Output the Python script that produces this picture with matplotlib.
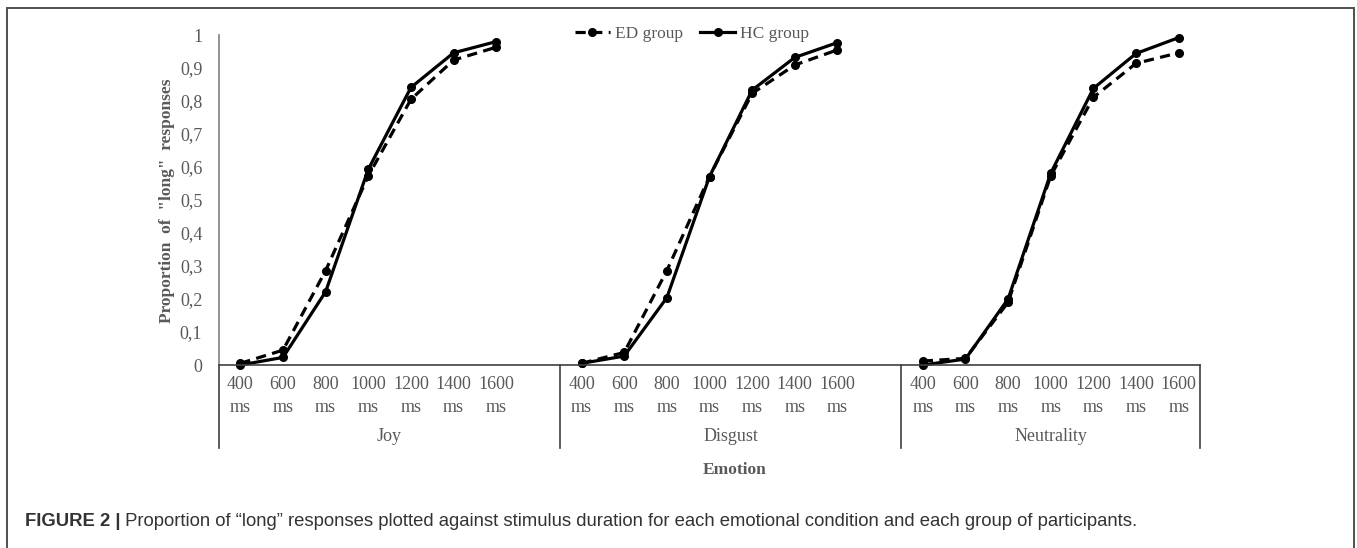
import numpy as np
import matplotlib
matplotlib.use('Agg')
import matplotlib.pyplot as plt
import matplotlib.transforms as mtransforms
from matplotlib.patches import Rectangle

# Data
durations = ['400', '600', '800', '1000', '1200', '1400', '1600']
emotions = ['Joy', 'Disgust', 'Neutrality']

ed_joy = [0.005, 0.045, 0.286, 0.573, 0.805, 0.924, 0.963]
hc_joy = [0.0, 0.023, 0.222, 0.593, 0.841, 0.946, 0.980]
ed_disgust = [0.005, 0.038, 0.286, 0.571, 0.823, 0.909, 0.955]
hc_disgust = [0.005, 0.027, 0.204, 0.571, 0.833, 0.932, 0.977]
ed_neutral = [0.012, 0.020, 0.190, 0.573, 0.811, 0.914, 0.946]
hc_neutral = [0.0, 0.018, 0.200, 0.581, 0.838, 0.944, 0.992]

ed_all = [ed_joy, ed_disgust, ed_neutral]
hc_all = [hc_joy, hc_disgust, hc_neutral]

W, H = 1357, 548
GRAY = '#595959'
SERIF = ['Liberation Serif', 'DejaVu Serif']

fig = plt.figure(figsize=(W / 100, H / 100), dpi=100)

# outer frame of the figure panel
fig.patches.append(Rectangle((7 / W, -0.1), 1347 / W, 1 - 8 / H + 0.1,
                             transform=fig.transFigure, fill=False,
                             edgecolor='#505050', linewidth=1.4))

ax = fig.add_axes([219 / W, 1 - 365 / H, (1200 - 219) / W, 330 / H])

# each emotion uses 7 slots plus one empty slot between groups
slot = 8
for g in range(len(emotions)):
    xs = g * slot + np.arange(len(durations))
    l_ed, = ax.plot(xs, ed_all[g], color='black', lw=2.3, dashes=(3.2, 2.0),
                    marker='o', ms=5.5, clip_on=False)
    l_hc, = ax.plot(xs, hc_all[g], color='black', lw=2.3,
                    marker='o', ms=5.5, clip_on=False)

ax.set_xlim(-0.5, 2 * slot + len(durations) - 0.5)
ax.set_ylim(0, 1)

yt = np.round(np.arange(0, 1.01, 0.1), 1)
ax.set_yticks(yt)
ax.set_yticklabels([('%g' % v).replace('.', ',') for v in yt],
                   fontfamily=SERIF, fontsize=13, color=GRAY)

xt = np.concatenate([g * slot + np.arange(len(durations)) for g in range(len(emotions))])
ax.set_xticks(xt)
ax.set_xticklabels([d + '\nms' for d in durations] * len(emotions),
                   fontfamily=SERIF, fontsize=13, color=GRAY, linespacing=1.45)
ax.tick_params(axis='both', length=0)
ax.tick_params(axis='y', pad=12)
ax.tick_params(axis='x', pad=8)

for s in ['top', 'right']:
    ax.spines[s].set_visible(False)
ax.spines['left'].set_color('#7f7f7f')
ax.spines['bottom'].set_color('#404040')
ax.spines['left'].set_linewidth(1.2)
ax.spines['bottom'].set_linewidth(1.2)

# group separators and group labels under the axis
trans = mtransforms.blended_transform_factory(ax.transData, ax.transAxes)
bounds = [-0.5, slot - 0.5, 2 * slot - 0.5, 2 * slot + len(durations) - 0.5]
for b in bounds:
    ax.plot([b, b], [0, -0.252], transform=trans, color='#404040', lw=1.2,
            clip_on=False)
for g, name in enumerate(emotions):
    ax.text((bounds[g] + bounds[g + 1]) / 2, -0.218, name, transform=trans,
            ha='center', va='center', fontfamily=SERIF, fontsize=13, color=GRAY)

fig.text(735 / W, 1 - 470 / H, 'Emotion', ha='center', va='center',
         fontfamily=SERIF, fontweight='bold', fontsize=12.5, color=GRAY)
fig.text(167 / W, 1 - 201 / H, 'Proportion  of  "long"  responses', rotation=90,
         ha='center', va='center', fontfamily=SERIF, fontweight='bold',
         fontsize=12.5, color=GRAY)

fig.legend([l_ed, l_hc], ['ED group', 'HC group'], loc='center',
           bbox_to_anchor=(692 / W, 1 - 34 / H), ncol=2, frameon=False,
           prop={'family': SERIF, 'size': 12.5}, labelcolor=GRAY,
           handlelength=2.0, handletextpad=0.3, columnspacing=1.0)

# caption
CAP = ['Liberation Sans Narrow', 'Liberation Sans', 'DejaVu Sans']
t1 = fig.text(25 / W, 1 - 521 / H, 'FIGURE 2 |', ha='left', va='center',
              fontfamily=CAP, fontweight='bold', fontsize=13.3, color='#333333')
ax.annotate(' Proportion of \u201clong\u201d responses plotted against stimulus duration '
            'for each emotional condition and each group of participants.',
            xy=(1, 0.5), xycoords=t1, ha='left', va='center',
            fontfamily=CAP, fontsize=13.3, color='#333333', annotation_clip=False)

fig.savefig('out.png', dpi=100)
